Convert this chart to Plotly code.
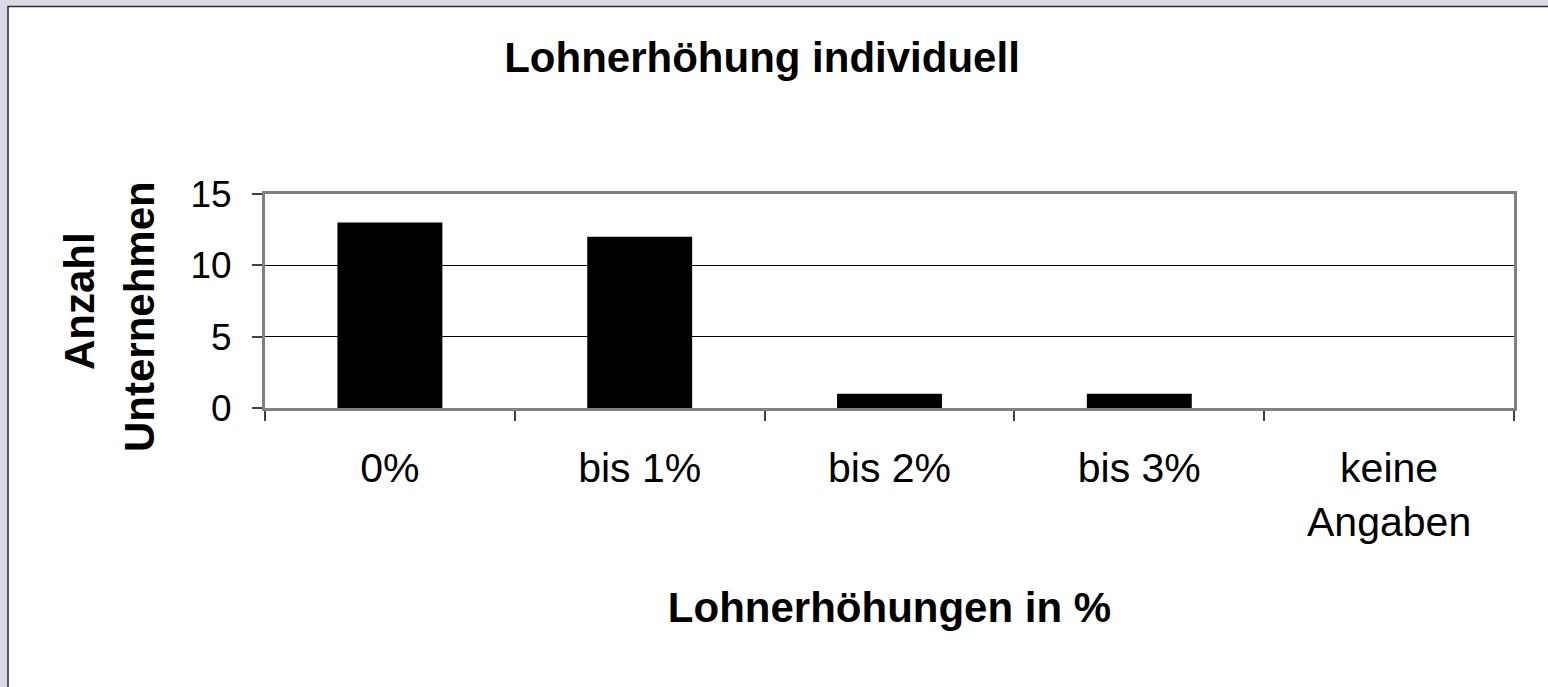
import plotly.graph_objects as go

# ---- data ----
categories = ["0%", "bis 1%", "bis 2%", "bis 3%", "keine<br>Angaben"]
values = [13, 12, 1, 1, 0]
y_ticks = [0, 5, 10, 15]

title_text = "Lohnerhöhung individuell"
x_title = "Lohnerhöhungen in %"
y_title_lines = ["Anzahl", "Unternehmen"]

# ---- layout geometry (pixels) ----
W, H = 1548, 687
ML, MR, MT, MB = 265, 34, 194, 279
PW = W - ML - MR
PH = H - MT - MB


def px_to_paper_x(px):
    return (px - ML) / PW


def px_to_paper_y(py):
    return (H - MB - py) / PH


FONT = "Arial, 'Liberation Sans', Helvetica, sans-serif"

fig = go.Figure()
fig.add_trace(go.Bar(
    x=categories,
    y=values,
    width=0.42,
    marker=dict(color="#000000", line=dict(width=0)),
    showlegend=False,
    hoverinfo="x+y",
))

# outer chart frame (light grey surround, white chart area with dark border)
fig.add_shape(
    type="rect", xref="paper", yref="paper",
    x0=px_to_paper_x(8), x1=px_to_paper_x(W + 40),
    y0=px_to_paper_y(H + 40), y1=px_to_paper_y(6.5),
    fillcolor="#ffffff", line=dict(color="#2b2b2b", width=1.5),
    layer="below",
)

# y axis title (two separately centred lines)
fig.add_annotation(
    text=y_title_lines[0], textangle=-90, showarrow=False,
    xref="paper", yref="paper",
    x=px_to_paper_x(79), y=px_to_paper_y(301),
    xanchor="center", yanchor="middle",
    font=dict(family=FONT, size=42, color="#000000", weight="bold"),
)
fig.add_annotation(
    text=y_title_lines[1], textangle=-90, showarrow=False,
    xref="paper", yref="paper",
    x=px_to_paper_x(139), y=px_to_paper_y(317),
    xanchor="center", yanchor="middle",
    font=dict(family=FONT, size=42, color="#000000", weight="bold"),
)

fig.update_layout(
    width=W, height=H,
    margin=dict(l=ML, r=MR, t=MT, b=MB, autoexpand=False),
    paper_bgcolor="#d9dce6",
    plot_bgcolor="#ffffff",
    font=dict(family=FONT, color="#000000"),
    title=dict(
        text=title_text,
        x=762 / W, xref="container", xanchor="center",
        y=1 - 57 / H, yref="container", yanchor="middle",
        font=dict(family=FONT, size=42, color="#000000", weight="bold"),
    ),
    bargap=0.58,
)

fig.update_xaxes(
    type="category",
    showline=True, linecolor="#808080", linewidth=3, mirror=True,
    ticks="outside", tickson="boundaries", ticklen=10, tickwidth=1.5, tickcolor="#404040",
    tickfont=dict(family=FONT, size=41, color="#000000"),
    ticklabelstandoff=22,
    showgrid=False, zeroline=False,
    title=dict(text=x_title, standoff=50,
               font=dict(family=FONT, size=42, color="#000000", weight="bold")),
    fixedrange=True,
)

fig.update_yaxes(
    range=[0, 15], tickvals=y_ticks, ticktext=[str(v) for v in y_ticks],
    showline=True, linecolor="#808080", linewidth=3, mirror=True,
    ticks="outside", ticklen=10, tickwidth=1.5, tickcolor="#404040",
    tickfont=dict(family=FONT, size=37, color="#000000"),
    ticklabelstandoff=13,
    showgrid=True, gridcolor="#000000", gridwidth=1,
    zeroline=False,
    fixedrange=True,
)

fig.write_html(
    "out.html",
    config=dict(displayModeBar=False),
    post_script="document.body.style.margin='0';document.body.style.background='#d9dce6';",
)
